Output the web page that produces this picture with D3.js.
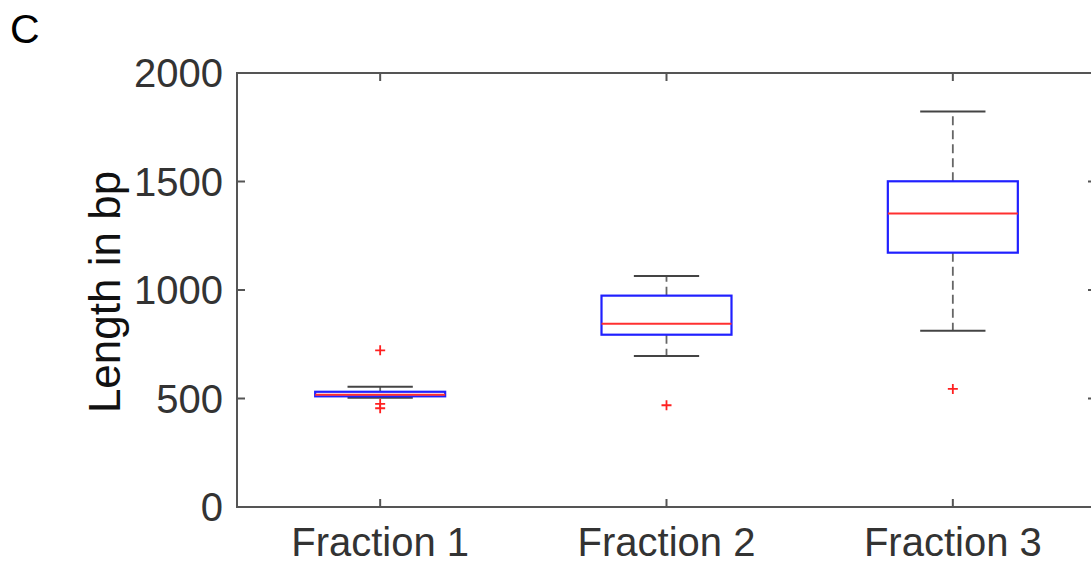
<!DOCTYPE html>
<html><head><meta charset="utf-8">
<script src="https://cdn.jsdelivr.net/npm/d3@7"></script>
<style>body{margin:0;background:#fff;} svg{display:block;}</style>
</head><body>
<svg id="c" width="1091" height="566"></svg>
<script>
const categories = ["Fraction 1", "Fraction 2", "Fraction 3"];
const lowerWhisker = [504, 696, 812];
const q1 = [510, 794, 1172];
const median = [517, 845, 1352];
const q3 = [531, 974, 1501];
const upperWhisker = [554, 1065, 1823];
const outliers = [[722, 475, 455], [469], [544]];
const yTicks = [0, 500, 1000, 1500, 2000];
const panelLabel = "C";
const yLabel = "Length in bp";

const svg = d3.select("#c");
const L = 237, R = 1096, T = 73, B = 507;
const x = d3.scaleLinear().domain([0.5, 3.5]).range([L, R]);
const y = d3.scaleLinear().domain([0, 2000]).range([B, T]);
const axisColor = "#555";
const textColor = "#333";
const tickFont = "40px 'Liberation Sans', Arial, sans-serif";

const data = categories.map((c, i) => ({c, i, pos: i + 1, lw: lowerWhisker[i], q1: q1[i], med: median[i], q3: q3[i], uw: upperWhisker[i], out: outliers[i]}));
const boxHalf = 0.227, capHalf = 0.114;
const g = svg.append("g");
data.forEach(d => {
  const cx = x(d.pos);
  const bw = x(d.pos + boxHalf) - cx;
  const cw = x(d.pos + capHalf) - cx;
  g.append("line").attr("x1", cx).attr("x2", cx).attr("y1", y(d.q3)).attr("y2", y(d.uw))
    .attr("stroke", "#666").attr("stroke-width", 1.8).attr("stroke-dasharray", "9,5");
  g.append("line").attr("x1", cx).attr("x2", cx).attr("y1", y(d.q1)).attr("y2", y(d.lw))
    .attr("stroke", "#666").attr("stroke-width", 1.8).attr("stroke-dasharray", "9,5");
  [d.uw, d.lw].forEach(v => g.append("line").attr("x1", cx - cw).attr("x2", cx + cw)
    .attr("y1", y(v)).attr("y2", y(v)).attr("stroke", "#444").attr("stroke-width", 2));
  g.append("rect").attr("x", cx - bw).attr("width", 2 * bw).attr("y", y(d.q3)).attr("height", y(d.q1) - y(d.q3))
    .attr("fill", "none").attr("stroke", "#2020ff").attr("stroke-width", 2.2);
  g.append("line").attr("x1", cx - bw).attr("x2", cx + bw).attr("y1", y(d.med)).attr("y2", y(d.med))
    .attr("stroke", "#ff3030").attr("stroke-width", 2);
  d.out.forEach(v => {
    const py = y(v);
    g.append("path").attr("d", `M${cx-5},${py}H${cx+5}M${cx},${py-5}V${py+5}`)
      .attr("stroke", "#ff2020").attr("stroke-width", 1.8).attr("fill", "none");
  });
});

const tl = 8;
const ax = svg.append("g").attr("stroke", axisColor).attr("stroke-width", 2).attr("fill", "none");
ax.append("path").attr("d", `M${R},${T}H${L}V${B}H${R}`);
ax.append("line").attr("x1", R).attr("x2", R).attr("y1", T).attr("y2", B);
yTicks.forEach(t => {
  ax.append("line").attr("x1", L).attr("x2", L + tl).attr("y1", y(t)).attr("y2", y(t));
  ax.append("line").attr("x1", R).attr("x2", R - tl).attr("y1", y(t)).attr("y2", y(t));
});
data.forEach(d => {
  ax.append("line").attr("x1", x(d.pos)).attr("x2", x(d.pos)).attr("y1", B).attr("y2", B - tl);
  ax.append("line").attr("x1", x(d.pos)).attr("x2", x(d.pos)).attr("y1", T).attr("y2", T + tl);
});

svg.append("g").selectAll("text").data(yTicks).join("text")
  .attr("x", 223).attr("y", d => y(d)).attr("dy", "0.35em").attr("text-anchor", "end")
  .style("font", tickFont).attr("fill", textColor).text(d => d);
svg.append("g").selectAll("text").data(data).join("text")
  .attr("x", d => x(d.pos)).attr("y", 556).attr("text-anchor", "middle")
  .style("font", tickFont).attr("fill", textColor).text(d => d.c);

svg.append("text").attr("transform", `translate(120,${(T + B) / 2 + 2}) rotate(-90)`)
  .attr("text-anchor", "middle").style("font", "44px 'Liberation Sans', Arial, sans-serif")
  .attr("fill", "#111").text(yLabel);

svg.append("text").attr("x", 10).attr("y", 43).style("font", "41px 'Liberation Sans', Arial, sans-serif")
  .attr("fill", "#000").text(panelLabel);
</script>
</body></html>
